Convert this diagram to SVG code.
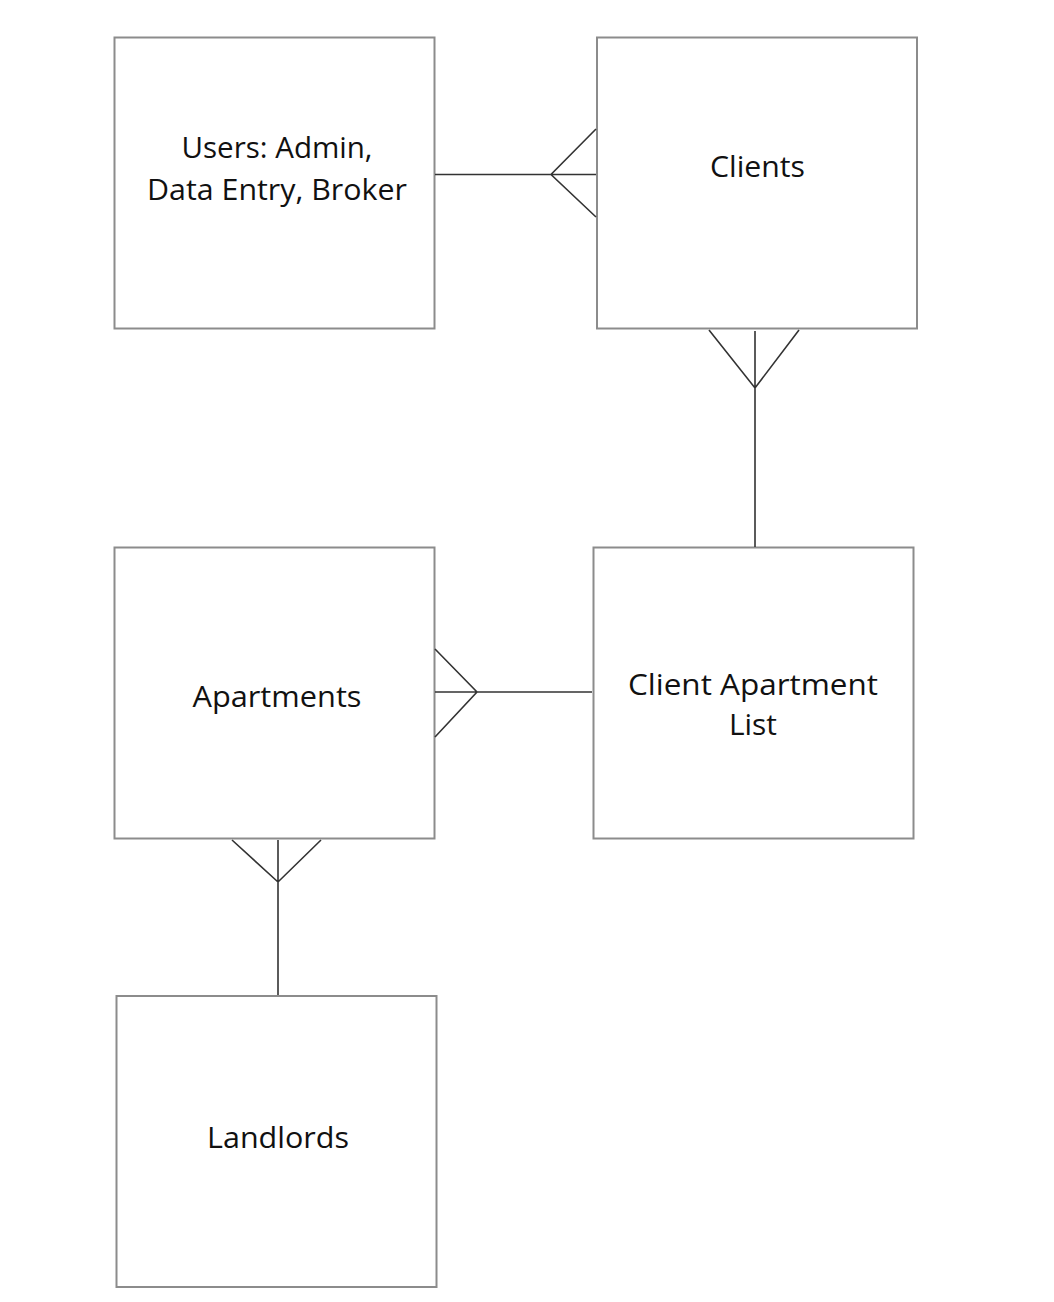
<svg xmlns="http://www.w3.org/2000/svg" width="1054" height="1302" viewBox="0 0 1054 1302">
<style>
.box{fill:#fff;stroke:#8c8c8c;stroke-width:2}
.lbl{font-family:"Open Sans","Noto Sans","Liberation Sans",sans-serif;font-size:30px;fill:#111;text-anchor:middle}
.con{fill:none;stroke:#333;stroke-width:1.6}
</style>
<rect width="1054" height="1302" fill="#fff"/>
<g id="users">
<rect class="box" x="114.5" y="37.5" width="320" height="291"/>
<text class="lbl" x="277" y="158" textLength="191" lengthAdjust="spacingAndGlyphs">Users: Admin,</text>
<text class="lbl" x="277" y="200" textLength="260" lengthAdjust="spacingAndGlyphs">Data Entry, Broker</text>
</g>
<g id="clients">
<rect class="box" x="597" y="37.5" width="320" height="291"/>
<text class="lbl" x="757.5" y="177" textLength="95" lengthAdjust="spacingAndGlyphs">Clients</text>
</g>
<g id="apartments">
<rect class="box" x="114.5" y="547.5" width="320" height="291"/>
<text class="lbl" x="277" y="707" textLength="169" lengthAdjust="spacingAndGlyphs">Apartments</text>
</g>
<g id="client-apartment-list">
<rect class="box" x="593.5" y="547.5" width="320" height="291"/>
<text class="lbl" x="753" y="695" textLength="250" lengthAdjust="spacingAndGlyphs">Client Apartment</text>
<text class="lbl" x="753" y="735" textLength="48" lengthAdjust="spacingAndGlyphs">List</text>
</g>
<g id="landlords">
<rect class="box" x="116.5" y="996" width="320" height="291"/>
<text class="lbl" x="278" y="1148" textLength="142" lengthAdjust="spacingAndGlyphs">Landlords</text>
</g>
<g id="connectors">
<path class="con" d="M435 174.5H596 M596 129L551 174.5L596 217"/>
<path class="con" d="M755 331V547 M709 330L755 388L799 330"/>
<path class="con" d="M435 692H592 M435 649L477 692L435 737"/>
<path class="con" d="M278 840V995 M232 840L278 882L321 840"/>
</g>
</svg>
